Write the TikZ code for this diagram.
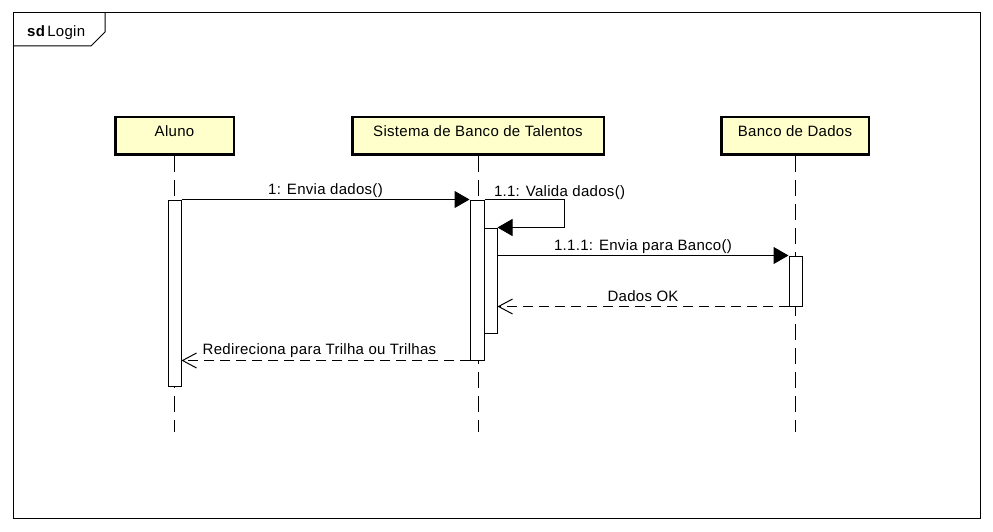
\documentclass[tikz,border=0pt]{standalone}
\usepackage{fontspec}
\setmainfont{Liberation Sans}[LetterSpace=2]
\usetikzlibrary{arrows.meta}
\definecolor{lifeyellow}{HTML}{FFFFCC}
\begin{document}
\begin{tikzpicture}[x=1pt,y=-1pt,
  every node/.style={font=\fontsize{15}{17}\selectfont},
  obj/.style={draw, line width=2.5pt, fill=lifeyellow, minimum height=37.5pt, text height=10.5pt, text depth=8.5pt, inner sep=0pt},
  act/.style={draw, line width=1pt, fill=white, minimum width=13pt, inner sep=0pt},
  life/.style={line width=1pt, dash pattern=on 16pt off 8pt},
  msg/.style={line width=1pt, -{Triangle[length=15pt,width=17pt]}},
  ret/.style={line width=1pt, dash pattern=on 10pt off 6pt, -{Straight Barb[length=14pt,width=15pt]}},
  lbl/.style={anchor=base, inner sep=0pt}
]
\useasboundingbox[fill=white] (0,0) rectangle (993,532);
% frame
\draw[line width=1pt] (13,13) rectangle (980,518);
\draw[line width=1pt] (13,46) -- (91,46) -- (105,32) -- (105,13);
\node[anchor=base west, inner sep=0pt] (title) at (27,37) {\textbf{sd}\kern2pt Login};
% objects
\node[obj, minimum width=118.5pt] (aluno) at (174.5,136) {Aluno};
\node[obj, minimum width=251.5pt] (sistema) at (478,136) {Sistema de Banco de Talentos};
\node[obj, minimum width=147.5pt] (banco) at (795,136) {Banco de Dados};
% lifelines
\coordinate (alunoEnd) at (174.5,432);
\coordinate (sistemaEnd) at (478,432);
\coordinate (bancoEnd) at (795,432);
\draw[life] (aluno.south) -- (alunoEnd);
\draw[life] (sistema.south) -- (sistemaEnd);
\draw[life] (banco.south) -- (bancoEnd);
% activations
\node[act, minimum height=186pt] (act1) at (174.5,293) {};
\node[act, minimum width=14pt, minimum height=160pt] (act2) at (477,280) {};
\node[act, minimum height=105pt] (act3) at (490.5,280.5) {};
\node[act, minimum height=50pt] (act4) at (795.5,281) {};
% messages
\draw[msg] (act1.north east) -- node[lbl, yshift=5pt] {1: Envia dados()} (act2.north west);
\draw[msg] (act2.north east) -- node[pos=0, anchor=base west, inner sep=0pt, xshift=9pt, yshift=3.5pt] {1.1: Valida dados()} ++(80,0) -- ++(0,28) -- (act3.north east);
\draw[msg] (act3.east |- act4.north) -- node[lbl, yshift=5pt] {1.1.1: Envia para Banco()} (act4.north west);
\draw[ret] (act4.south west) -- node[lbl, yshift=5pt] {Dados OK} (act3.east |- act4.south);
\draw[ret] (act2.south west) -- node[pos=0.928, anchor=base west, inner sep=0pt, yshift=6pt] {Redireciona para Trilha ou Trilhas} (act1.east |- act2.south);
\end{tikzpicture}
\end{document}
